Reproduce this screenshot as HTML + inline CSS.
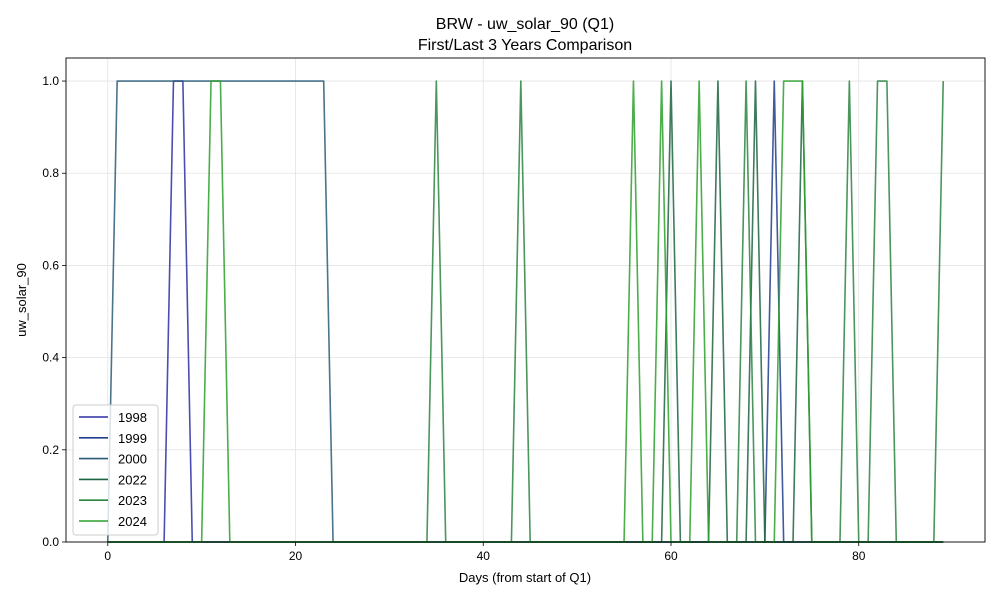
<!DOCTYPE html>
<html><head><meta charset="utf-8"><style>
body{margin:0;background:#fff;}
svg{font-family:"Liberation Sans","DejaVu Sans",sans-serif;}
</style></head><body>
<svg id="chart" width="1000" height="600">
<rect width="1000" height="600" fill="#fff"/>
<g id="grid"></g><g id="series"></g><g id="axes"></g><g id="legend"></g>
<text x="525" y="29" text-anchor="middle" font-size="16">BRW - uw_solar_90 (Q1)</text>
<text x="525" y="50" text-anchor="middle" font-size="16">First/Last 3 Years Comparison</text>
<text x="525" y="582" text-anchor="middle" font-size="13">Days (from start of Q1)</text>
<text transform="translate(26,300) rotate(-90)" text-anchor="middle" font-size="13">uw_solar_90</text>
</svg>
<script>
const years=["1998","1999","2000","2022","2023","2024"];
const colors=["#2b2fa3","#1f3d8c","#2a5a78","#1b6440","#2a8440","#2ca02c"];
const xTicks=[0,20,40,60,80];
const yTicks=[0,0.2,0.4,0.6,0.8,1.0];
const s1998=[0,0,0,0,0,0,0,1,1,0, 0,0,0,0,0,0,0,0,0,0, 0,0,0,0,0,0,0,0,0,0, 0,0,0,0,0,0,0,0,0,0, 0,0,0,0,0,0,0,0,0,0, 0,0,0,0,0,0,0,0,0,0, 0,0,0,0,0,0,0,0,0,0, 0,0,0,0,0,0,0,0,0,0, 0,0,0,0,0,0,0,0,0,0];
const s1999=[0,0,0,0,0,0,0,0,0,0, 0,0,0,0,0,0,0,0,0,0, 0,0,0,0,0,0,0,0,0,0, 0,0,0,0,0,0,0,0,0,0, 0,0,0,0,0,0,0,0,0,0, 0,0,0,0,0,0,0,0,0,0, 0,0,0,0,0,0,0,0,0,0, 0,1,0,0,0,0,0,0,0,0, 0,0,0,0,0,0,0,0,0,0];
const s2000=[0,1,1,1,1,1,1,1,1,1, 1,1,1,1,1,1,1,1,1,1, 1,1,1,1,0,0,0,0,0,0, 0,0,0,0,0,0,0,0,0,0, 0,0,0,0,0,0,0,0,0,0, 0,0,0,0,0,0,0,0,0,0, 0,0,0,0,0,0,0,0,0,0, 0,0,0,0,0,0,0,0,0,0, 0,0,0,0,0,0,0,0,0,0];
const s2022=[0,0,0,0,0,0,0,0,0,0, 0,0,0,0,0,0,0,0,0,0, 0,0,0,0,0,0,0,0,0,0, 0,0,0,0,0,0,0,0,0,0, 0,0,0,0,0,0,0,0,0,0, 0,0,0,0,0,0,0,0,0,0, 1,0,0,0,0,1,0,0,0,1, 0,0,0,0,1,0,0,0,0,0, 0,0,0,0,0,0,0,0,0,0];
const s2023=[0,0,0,0,0,0,0,0,0,0, 0,0,0,0,0,0,0,0,0,0, 0,0,0,0,0,0,0,0,0,0, 0,0,0,0,0,1,0,0,0,0, 0,0,0,0,1,0,0,0,0,0, 0,0,0,0,0,0,0,0,0,0, 0,0,0,0,0,0,0,0,1,0, 0,0,0,0,0,0,0,0,0,1, 0,0,1,1,0,0,0,0,0,1];
const s2024=[0,0,0,0,0,0,0,0,0,0, 0,1,1,0,0,0,0,0,0,0, 0,0,0,0,0,0,0,0,0,0, 0,0,0,0,0,0,0,0,0,0, 0,0,0,0,0,0,0,0,0,0, 0,0,0,0,0,0,1,0,0,1, 0,0,0,1,0,0,0,0,0,0, 0,0,1,1,1,0,0,0,0,0, 0,0,0,0,0,0,0,0,0,0];
const allSeries=[s1998,s1999,s2000,s2022,s2023,s2024];
const NS="http://www.w3.org/2000/svg";
const L=66,R=985,T=58,B=542;
const xmin=-4.45,xmax=93.45,ymin=0,ymax=1.05;
const X=d=>L+(d-xmin)/(xmax-xmin)*(R-L);
const Y=v=>B-(v-ymin)/(ymax-ymin)*(B-T);
function mk(tag,attrs,parent){const e=document.createElementNS(NS,tag);for(const k in attrs)e.setAttribute(k,attrs[k]);parent.appendChild(e);return e;}
const grid=document.getElementById('grid'),axes=document.getElementById('axes'),ser=document.getElementById('series'),leg=document.getElementById('legend');
xTicks.forEach(t=>{
 const g=mk('line',{x1:X(t),x2:X(t),y1:T,y2:B,stroke:'#e3e3e3','stroke-width':0.8},grid);
 
 
 const tk=mk('line',{x1:X(t),x2:X(t),y1:B,y2:B+4,stroke:'#000','stroke-width':0.8},axes);
 
 
 const tx=mk('text',{x:X(t),y:B+18,'text-anchor':'middle','font-size':12},axes);tx.textContent=t;
 
 
});
yTicks.forEach(t=>{
 const g=mk('line',{x1:L,x2:R,y1:Y(t),y2:Y(t),stroke:'#e3e3e3','stroke-width':0.8},grid);
 
 
 const tk=mk('line',{x1:L-4,x2:L,y1:Y(t),y2:Y(t),stroke:'#000','stroke-width':0.8},axes);
 
 
 const tx=mk('text',{x:L-7,y:Y(t)+4,'text-anchor':'end','font-size':12},axes);tx.textContent=t.toFixed(1);
 
 
});
const frame=mk('rect',{x:L,y:T,width:R-L,height:B-T,fill:'none',stroke:'#000','stroke-width':0.9},axes);


allSeries.forEach((s,i)=>{
 const pts=s.map((v,d)=>X(d).toFixed(2)+','+Y(v).toFixed(2)).join(' ');
 const p=mk('polyline',{points:pts,fill:'none',stroke:colors[i],'stroke-width':1.6,'stroke-opacity':0.85,'stroke-linejoin':'round'},ser);
 
 
});
const box=mk('rect',{x:73,y:405,width:85,height:130,rx:3,fill:'#fff','fill-opacity':0.8,stroke:'#ccc'},leg);


years.forEach((y,i)=>{
 const cy=417+i*20.8;
 const ln=mk('line',{x1:79,x2:108,y1:cy,y2:cy,stroke:colors[i],'stroke-width':1.6},leg);
 
 
 const tx=mk('text',{x:118,y:cy+5,'font-size':13},leg);tx.textContent=y;
 
 
});
</script>
</body></html>
